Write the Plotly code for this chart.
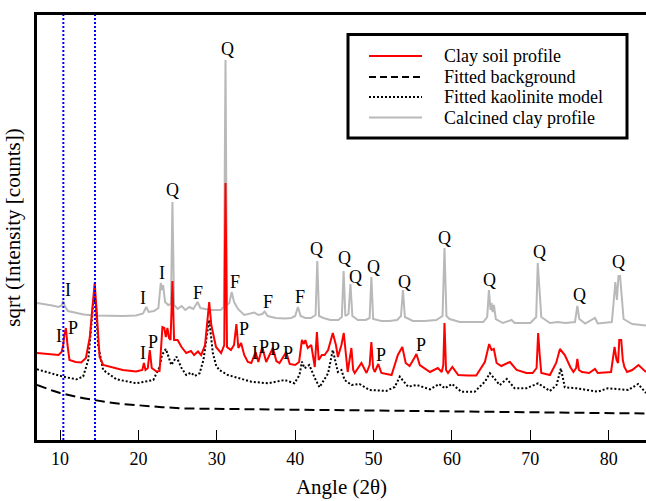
import plotly.graph_objects as go

# ---------------- data ----------------
# angle in degrees 2-theta, intensity in arbitrary sqrt units
calcined_x = [7.06, 8.0, 9.0, 9.8, 10.2, 10.4, 10.6, 11.0, 12.0, 13.0, 14.4, 16.0, 18.0, 19.7, 20.6, 21.0, 21.3, 22.0,
              22.55, 22.85, 23.0, 23.15, 23.4, 23.8, 24.15, 24.34, 24.55, 25.0, 25.5, 26.0, 26.5, 27.0, 27.55, 27.9,
              28.5, 29.2, 30.5, 30.9, 31.11, 31.3, 31.6, 31.9, 32.2, 32.7, 33.5, 34.2, 34.8, 35.3, 35.8, 36.1, 36.5,
              37.5, 38.7, 39.5, 40.0, 40.35, 40.7, 41.3, 42.0, 42.6, 42.82, 43.05, 43.6, 44.5, 45.5, 45.95, 46.18,
              46.4, 46.8, 47.05, 47.3, 48.0, 49.0, 49.5, 49.72, 49.95, 51.0, 52.0, 53.0, 53.5, 53.75, 54.0, 55.0,
              56.5, 58.0, 58.8, 59.05, 59.3, 59.7, 61.0, 63.0, 64.0, 64.5, 64.72, 64.92, 65.05, 65.2, 65.35, 65.6,
              66.5, 67.6, 68.0, 70.0, 70.75, 70.95, 71.15, 71.4, 72.5, 73.5, 74.5, 75.7, 76.0, 76.25, 77.0, 78.25,
              78.6, 80.4, 80.6, 80.85, 81.05, 81.25, 81.45, 81.65, 81.9, 83.0, 84.0, 84.76]
calcined_y = [137, 136, 134.5, 133, 134.5, 139, 134, 129, 127, 125.5, 124.5, 124, 124, 124.5, 126.5, 133, 128, 129,
              132, 157, 150, 155, 138, 135, 136, 238, 135, 131, 134, 130, 133, 131, 138, 132,
              131, 130, 130, 133, 380, 135, 137, 148, 138, 131, 125, 126, 127.5, 125, 126, 128.5, 124,
              122, 121.5, 122, 124, 133, 124, 122, 122, 125, 179, 124, 122, 120, 120, 123, 169,
              124, 126, 156, 124, 120, 120, 122, 163, 121, 119, 119, 120, 124, 150, 123, 119,
              119, 120, 124, 192, 124, 121, 118, 117.5, 118, 123, 150, 130, 137, 128, 135, 121,
              117, 120, 117, 117, 123, 177, 150, 123, 117, 118, 117, 118, 134, 121, 116.5, 122,
              116.5, 118, 135, 158, 140, 164, 164, 140, 121, 116, 115, 114.5]

soil_x = [7.06, 8.0, 9.0, 9.8, 10.2, 10.4, 10.55, 10.75, 10.95, 11.2, 12.0, 12.7, 13.3, 13.8, 14.1, 14.42, 14.7,
          15.05, 15.5, 16.8, 18.0, 19.7, 20.5, 20.7, 20.9, 21.2, 21.45, 21.7, 22.3, 22.7, 22.9, 23.06, 23.3, 23.5,
          23.7, 23.9, 24.1, 24.34, 24.55, 24.7, 25.0, 25.5, 26.1, 26.7, 27.1, 27.6, 28.0, 28.5, 28.8, 29.03, 29.3,
          29.9, 30.55, 30.95, 31.11, 31.3, 31.8, 32.2, 32.5, 32.75, 33.1, 33.5, 33.96, 34.4, 34.95, 35.3, 35.8,
          36.3, 37.15, 37.6, 38.0, 38.86, 39.3, 40.0, 40.5, 40.86, 41.1, 41.3, 41.6, 42.05, 42.5, 42.77, 43.0,
          43.4, 43.75, 44.2, 44.8, 45.2, 45.45, 45.9, 46.2, 46.45, 46.7, 47.17, 47.4, 47.6, 48.45, 49.1, 49.5,
          49.72, 49.95, 50.15, 50.6, 51.0, 52.3, 53.1, 53.4, 53.67, 54.1, 54.6, 55.2, 55.47, 55.9, 57.2, 58.2,
          58.7, 58.9, 59.05, 59.25, 59.5, 60.05, 60.8, 62.0, 63.1, 64.2, 64.75, 65.05, 65.35, 65.7, 66.3, 67.4,
          68.25, 69.5, 70.3, 70.8, 71.0, 71.2, 71.4, 72.5, 73.3, 73.78, 74.4, 75.1, 75.5, 75.85, 76.0, 76.2,
          76.6, 77.5, 78.25, 78.6, 80.3, 80.55, 80.75, 81.0, 81.2, 81.35, 81.6, 81.8, 82.0, 82.35, 83.0, 83.8,
          84.3, 84.76]
soil_y = [87, 86.5, 85.5, 85, 88, 95, 105, 112, 95, 80, 78, 77.5, 82, 103, 130, 157, 125,
          83, 75, 72, 70, 68.5, 70, 77, 70, 72, 90, 72, 68.5, 69, 95, 113, 112, 103,
          112, 102, 100, 159, 100, 100, 100, 93, 87, 89, 85, 88.5, 85, 95, 120, 138, 115,
          93, 87, 95, 257, 93, 90, 95, 116, 92, 97, 85, 78, 77, 88, 78, 93,
          78, 92, 79, 77, 88, 76, 75, 78, 100, 96, 100, 92, 95, 73, 108, 80,
          85, 85, 90, 107, 95, 83, 95, 107, 85, 68, 92, 70, 67, 77, 67, 75,
          98, 72, 68, 76, 67, 65, 85, 90, 93, 77, 74, 82, 86, 75, 68, 72,
          68, 75, 117, 70, 67, 73, 65, 64.5, 64.5, 78, 96, 90, 91, 77, 74, 78,
          70, 67, 67, 72, 107, 85, 67, 65, 77, 91, 85, 73, 68, 72, 81, 70,
          68, 67, 71, 67, 68, 82, 93, 80, 77, 100, 100, 80, 73, 68, 70, 75,
          71, 68]

kaolinite_x = [7.06, 8.7, 10.4, 12.1, 12.95, 13.6, 14.0, 14.25, 14.42, 14.6, 14.85, 15.5, 17.2, 19.75, 21.9, 22.7,
               23.0, 23.5, 24.2, 24.85, 25.5, 26.1, 26.7, 27.2, 27.8, 28.3, 28.65, 29.03, 29.5, 29.9, 30.3, 31.4,
               34.4, 36.5, 38.65, 39.9, 40.55, 40.86, 41.2, 41.8, 42.5, 43.1, 44.2, 44.8, 45.45, 45.9, 46.3, 47.2,
               48.2, 49.5, 51.6, 52.7, 53.35, 54.4, 55.5, 57.2, 58.35, 59.1, 60.0, 61.2, 62.9, 64.2, 64.85, 66.1,
               67.0, 68.0, 69.5, 71.0, 72.5, 73.35, 73.9, 74.4, 75.9, 78.6, 79.9, 82.5, 83.75, 84.76]
kaolinite_y = [70.7, 66.7, 63.3, 60.7, 63.5, 80, 115, 138, 143, 135, 95, 70, 60.7, 56.7, 60, 73,
               85, 91, 75, 83.3, 72, 65, 67.3, 64, 66.7, 80, 100, 120, 86.7, 75, 70, 65,
               58.3, 56.7, 60, 56.7, 65, 78.3, 71.7, 75, 62, 52.7, 66.7, 90, 68, 70, 60, 55,
               56, 50, 49, 53, 63.3, 53.3, 55, 50.7, 56, 51.7, 56, 48.3, 48.3, 58.3, 66.7, 55,
               61, 51.7, 51.7, 56.7, 49, 55, 71.7, 52.7, 51.7, 48.3, 51.7, 50, 56, 47]

background_x = [7.06, 8, 9, 10, 11, 12, 13, 14, 15, 16, 18, 20, 23, 26, 30, 40, 50, 60, 70, 84.76]
background_y = [55, 52, 49.5, 47, 45, 43.3, 41.8, 40.3, 39, 37.8, 36, 34.5, 32.8, 31.5, 31, 30.3, 29.5, 28.5, 27.5, 26.5]

marker_angles = [10.42, 14.46]          # blue dotted reference lines
x_ticks = [10, 20, 30, 40, 50, 60, 70, 80]

phase_text = ["Q", "Q", "I", "I", "F", "F", "F", "F", "Q", "Q", "Q", "Q", "Q", "Q", "Q", "Q", "Q", "Q",
              "I", "I", "P", "I", "P", "P", "I", "P", "P", "P", "P", "P"]
phase_x = [31.33, 24.34, 23.03, 20.64, 27.66, 32.35, 36.51, 40.56, 42.70, 46.31, 47.72, 50.05, 53.89, 59.08,
           64.83, 71.22, 76.33, 81.31, 10.97, 9.82, 11.70, 20.64, 21.92, 33.42, 34.82, 35.97, 37.41, 39.07,
           51.00, 55.99]
phase_y = [391, 250, 166.7, 141.7, 147.3, 158.3, 138.3, 143.3, 190.7, 181.7, 163.3, 173.3, 158.3, 202,
           160, 188.3, 145, 178.3, 150, 104, 111.7, 86.7, 98.3, 110.7, 86.7, 92.7, 90.7, 86.7, 85, 95]

legend_names = ["Clay soil profile", "Fitted background", "Fitted kaolinite model", "Calcined clay profile"]

# ---------------- figure ----------------
W, H = 646, 501
L, R, T, B = 37, 0, 15, 61
PW, PH = W - L - R, H - T - B
FONT = "Liberation Serif, Times New Roman, serif"

RED = "#ff0000"
GRAY = "#b9b9b9"

def px(xp):
    return (xp - L) / PW

def py(yp):
    return (H - B - yp) / PH

fig = go.Figure()
fig.add_trace(go.Scatter(x=background_x, y=background_y, mode="lines",
                         line=dict(color="black", width=2, dash="10px,5px"), name=legend_names[1]))
fig.add_trace(go.Scatter(x=kaolinite_x, y=kaolinite_y, mode="lines",
                         line=dict(color="black", width=2, dash="2px,2px"), name=legend_names[2]))
fig.add_trace(go.Scatter(x=calcined_x, y=calcined_y, mode="lines",
                         line=dict(color=GRAY, width=2), name=legend_names[3]))
fig.add_trace(go.Scatter(x=soil_x, y=soil_y, mode="lines",
                         line=dict(color=RED, width=2), name=legend_names[0]))

shapes = []
for a in marker_angles:
    shapes.append(dict(type="line", xref="x", yref="paper", x0=a, x1=a, y0=0, y1=1,
                       line=dict(color="#0000ff", width=2, dash="2px,2px")))

# legend (drawn manually to match the box geometry)
shapes.append(dict(type="rect", xref="paper", yref="paper",
                   x0=px(348), x1=px(627), y0=py(138), y1=py(34.5),
                   line=dict(color="black", width=3), fillcolor="white", layer="above"))
leg_styles = [dict(color=RED, width=2), dict(color="black", width=2, dash="7px,4px"),
              dict(color="black", width=2, dash="2px,2px"), dict(color=GRAY, width=2)]
leg_rows = [56, 77, 97, 117.5]
annotations = []
for name, st, yy in zip(legend_names, leg_styles, leg_rows):
    shapes.append(dict(type="line", xref="paper", yref="paper", x0=px(369), x1=px(422),
                       y0=py(yy), y1=py(yy), line=st, layer="above"))
    annotations.append(dict(text=name, xref="paper", yref="paper", x=px(442), y=py(yy),
                            xanchor="left", yanchor="middle", showarrow=False,
                            font=dict(family=FONT, size=18, color="black")))

for t, xx, yy in zip(phase_text, phase_x, phase_y):
    annotations.append(dict(text=t, x=xx, y=yy, xref="x", yref="y", showarrow=False,
                            xanchor="center", yanchor="middle",
                            font=dict(family=FONT, size=18, color="black")))

fig.update_layout(
    width=W, height=H,
    margin=dict(l=L, r=R, t=T, b=B, pad=0),
    paper_bgcolor="white", plot_bgcolor="white",
    showlegend=False,
    font=dict(family=FONT, size=18, color="black"),
    shapes=shapes, annotations=annotations,
    xaxis=dict(range=[7.06, 84.76], showgrid=False, zeroline=False,
               showline=True, linecolor="black", linewidth=3, mirror=True,
               ticks="inside", ticklen=10, tickwidth=1, tickcolor="black",
               tickvals=x_ticks, ticktext=[str(v) for v in x_ticks],
               tickfont=dict(family=FONT, size=18),
               title=dict(text="Angle (2θ)", font=dict(family=FONT, size=21), standoff=12)),
    yaxis=dict(range=[0, 425], showgrid=False, zeroline=False,
               showline=True, linecolor="black", linewidth=3,
               showticklabels=False, ticks="",
               title=dict(text="sqrt (Intensity [counts])", font=dict(family=FONT, size=21), standoff=8)),
)

fig.write_html("out.html", config={"displayModeBar": False},
               post_script="document.body.style.margin='0px';document.body.style.overflow='hidden';")
